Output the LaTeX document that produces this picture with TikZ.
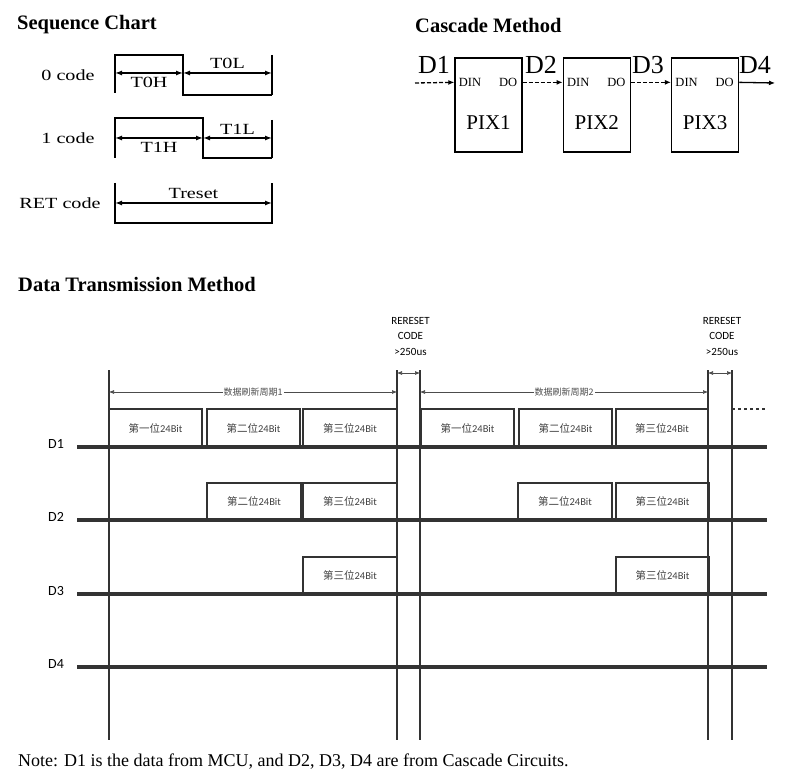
\documentclass[tikz,border=0pt]{standalone}
\usepackage{fontspec}
\setmainfont{Liberation Serif}
\newfontfamily\seqfont[FakeStretch=1.3]{Liberation Serif}
\newfontfamily\dtfont{Carlito}
\newfontfamily\cjkfont{Noto Sans CJK SC}
\usetikzlibrary{arrows.meta,positioning}

\tikzset{
  title/.style={font=\bfseries\fontsize{20.5}{22}\selectfont, anchor=west, inner sep=0pt},
  codelbl/.style={font=\seqfont\fontsize{15.5}{17}\selectfont},
  wave/.style={line width=1.3pt},
  dimarrow/.style={{Latex[length=7pt,width=5pt]}-{Latex[length=7pt,width=5pt]}, line width=1.3pt},
  pixbox/.style={draw, line width=1.3pt, minimum width=67pt, minimum height=94pt, inner sep=0pt},
  link/.style={-{Latex[length=6pt,width=5pt]}, line width=1.3pt, dash pattern=on 4pt off 2pt},
  pinlbl/.style={font=\fontsize{12.5}{14}\selectfont},
  dbig/.style={font=\fontsize{26}{28}\selectfont},
  bus/.style={line width=3.5pt, draw=black!80},
  pulse/.style={line width=1.6pt, draw=black!80},
  grid/.style={line width=1.4pt, draw=black!80},
  bitlbl/.style={font=\fontsize{10.5}{12}\selectfont, text=black!75},
  period/.style={{Latex[length=5pt,width=4pt]}-{Latex[length=5pt,width=4pt]}, line width=0.6pt, draw=black!70},
  dlbl/.style={font=\dtfont\fontsize{14}{16}\selectfont},
}

\begin{document}
\begin{tikzpicture}[x=1pt, y=-1pt]
\useasboundingbox (0,0) rectangle (800,775);

% sequence chart
\node[title] (seqtitle) at (17,25) {Sequence Chart};

\node[codelbl] (code0) at (68,75) {0 code};
\draw[wave] (115,93) -- (115,55) -- (183,55) -- (183,95) -- (272,95);
\draw[wave] (272,55) -- (272,95);
\coordinate (t0a) at (115,73);
\coordinate (t0b) at (183,73);
\coordinate (t0c) at (272,73);
\draw[dimarrow] (t0a) -- node[codelbl, below=0pt] (t0h) {T0H} (t0b);
\draw[dimarrow] (t0b) -- node[codelbl, above=0pt] (t0l) {T0L} (t0c);

\node[codelbl] (code1) at (68,138) {1 code};
\draw[wave] (115,158) -- (115,118) -- (203,118) -- (203,158) -- (272,158);
\draw[wave] (272,120) -- (272,158);
\coordinate (t1a) at (115,138);
\coordinate (t1b) at (203,138);
\coordinate (t1c) at (272,138);
\draw[dimarrow] (t1a) -- node[codelbl, below=0pt] (t1h) {T1H} (t1b);
\draw[dimarrow] (t1b) -- node[codelbl, above=0pt] (t1l) {T1L} (t1c);

\node[codelbl] (coderet) at (60,203) {RET code};
\draw[wave] (115,183) -- (115,223) -- (272,223) -- (272,183);
\coordinate (tra) at (115,203);
\coordinate (trb) at (272,203);
\draw[dimarrow] (tra) -- node[codelbl, above=0pt] (treset) {Treset} (trb);

% cascade method
\node[title] (castitle) at (415,25) {Cascade Method};

\node[pixbox] (pix1) at (488.5,105) {};
\node[pixbox, right=40pt of pix1] (pix2) {};
\node[pixbox, right=40pt of pix2] (pix3) {};

\foreach \p in {1,2,3}{
  \node[font=\fontsize{21}{23}\selectfont] (pixname\p) at ([yshift=-18pt]pix\p.center) {PIX\p};
  \coordinate (in\p) at ([yshift=-25pt]pix\p.north west);
  \coordinate (out\p) at ([yshift=-25pt]pix\p.north east);
  \node[pinlbl, anchor=west] (din\p) at ([xshift=1pt]in\p) {DIN};
  \node[pinlbl, anchor=east] (do\p) at ([xshift=-2pt]out\p) {DO};
}
\coordinate (din0) at (415,83);
\coordinate (dout4) at (775,83);

\draw[link] (din0) -- (in1);
\draw[link] (out1) -- (in2);
\draw[link] (out2) -- (in3);
\draw[link, solid] (out3) -- (dout4);

\node[dbig] (cd1) at (434,65) {D1};
\node[dbig] (cd2) at (541,65) {D2};
\node[dbig] (cd3) at (648,65) {D3};
\node[dbig] (cd4) at (755,65) {D4};

% data transmission method
\node[title] (dttitle) at (18,284) {Data Transmission Method};

\foreach \x in {109,397,420,708,732}{\draw[grid] (\x,370) -- (\x,740);}

\foreach \n/\y in {1/447,2/520,3/594,4/667}{
  \draw[bus] (77,\y) -- (767,\y);
  \node[dlbl] (dname\n) at (56,\y-3) {D\n};
}

% D1
\foreach \xa/\xb/\t in {109/202/一,207/300/二,303/397/三,421/514/一,519/612/二,616/708/三}{
  \draw[pulse] (\xa,447) -- (\xa,409) -- (\xb,409) -- (\xb,447);
  \node[bitlbl] (bita\xa) at ({(\xa+\xb)/2},428) {\cjkfont 第\t 位\dtfont 24Bit};
}
\draw[pulse, dashed] (732,409) -- (765,409);

% D2
\foreach \xa/\xb/\t in {207/301/二,303/397/三,518/612/二,616/709/三}{
  \draw[pulse] (\xa,520) -- (\xa,483) -- (\xb,483) -- (\xb,520);
  \node[bitlbl] (bitb\xa) at ({(\xa+\xb)/2},501) {\cjkfont 第\t 位\dtfont 24Bit};
}

% D3
\foreach \xa/\xb/\t in {303/397/三,616/709/三}{
  \draw[pulse] (\xa,594) -- (\xa,557) -- (\xb,557) -- (\xb,594);
  \node[bitlbl] (bitc\xa) at ({(\xa+\xb)/2},575) {\cjkfont 第\t 位\dtfont 24Bit};
}

\coordinate (pa1) at (109,392);
\coordinate (pb1) at (397,392);
\coordinate (pa2) at (420,392);
\coordinate (pb2) at (708,392);
\draw[period] (pa1) -- node[fill=white, inner sep=1pt, font=\cjkfont\fontsize{9}{10}\selectfont, text=black!70] (cyc1) {数据刷新周期1} (pb1);
\draw[period] (pa2) -- node[fill=white, inner sep=1pt, font=\cjkfont\fontsize{9}{10}\selectfont, text=black!70] (cyc2) {数据刷新周期2} (pb2);

\foreach \r/\xa/\xb in {1/397/420,2/708/732}{
  \coordinate (ra\r) at (\xa,373);
  \coordinate (rb\r) at (\xb,373);
  \draw[period] (ra\r) -- (rb\r);
  \node[dlbl, font=\dtfont\fontsize{11}{15.5}\selectfont, align=center] (reset\r) at ({(\xa+\xb)/2+2},336) {RERESET\\CODE\\>250us};
}

\node[font=\fontsize{18}{20}\selectfont, anchor=west, inner sep=0pt] (note) at (18,762) {Note: D1 is the data from MCU, and D2, D3, D4 are from Cascade Circuits.};

\end{tikzpicture}
\end{document}
